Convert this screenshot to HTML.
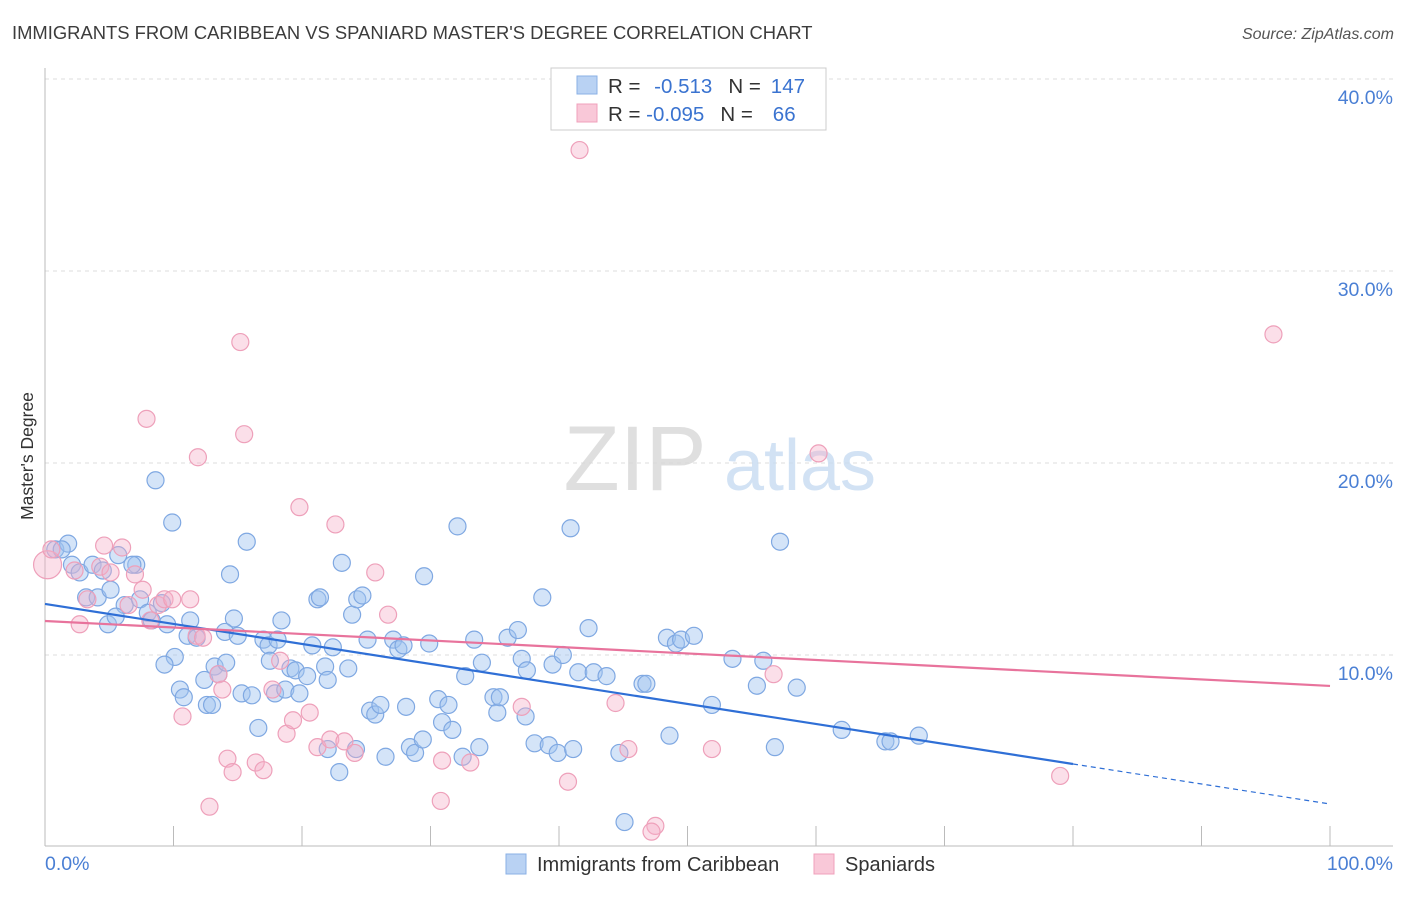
<!DOCTYPE html>
<html><head><meta charset="utf-8"><style>
body{margin:0;background:#fff;font-family:"Liberation Sans",sans-serif;}
svg text{font-family:"Liberation Sans",sans-serif;}
</style></head><body>
<svg id="chart" width="1406" height="892" viewBox="0 0 1406 892" xmlns="http://www.w3.org/2000/svg">
<text x="12" y="39" font-size="18.4" fill="#3c3c3c">IMMIGRANTS FROM CARIBBEAN VS SPANIARD MASTER'S DEGREE CORRELATION CHART</text>
<text x="1394" y="39" font-size="16" fill="#555" font-style="italic" text-anchor="end">Source: ZipAtlas.com</text>
<g id="grid"></g>
<g>
<text x="635" y="490" font-size="92" fill="#d8d8d8" font-family="Liberation Serif" text-anchor="middle" opacity="0.8">ZIP</text>
<text x="800" y="490" font-size="72" fill="#c8dcf2" text-anchor="middle" opacity="0.8">atlas</text>
</g>
<line x1="45" y1="68" x2="45" y2="846" stroke="#bbb"/>
<line x1="45" y1="846" x2="1393" y2="846" stroke="#bbb"/>
<g id="xticks"></g>
<g id="ylabels"></g>
<g id="pts"></g>
<g id="lines"></g>
<text x="45" y="870" font-size="19.5" fill="#4a7fd4">0.0%</text>
<text x="1393" y="870" font-size="19.5" fill="#4a7fd4" text-anchor="end">100.0%</text>
<text transform="translate(33,456) rotate(-90)" font-size="17.5" fill="#333" text-anchor="middle">Master's Degree</text>
<g>
<rect x="551" y="68" width="275" height="62" fill="#fff" stroke="#ccc"/>
<rect x="577" y="76" width="20" height="18" fill="#b9d2f3" stroke="#8ab0e6"/>
<rect x="577" y="104" width="20" height="18" fill="#f9c8d8" stroke="#f0a0bb"/>
<text x="608" y="93" font-size="20.5" fill="#333">R = <tspan fill="#3a73d0" dx="8">-0.513</tspan><tspan fill="#333" dx="16">N =</tspan><tspan fill="#3a73d0" dx="10">147</tspan></text>
<text x="608" y="121" font-size="20.5" fill="#333">R = <tspan fill="#3a73d0">-0.095</tspan><tspan fill="#333" dx="16">N =</tspan><tspan fill="#3a73d0" dx="20">66</tspan></text>
</g>
<g>
<rect x="506" y="854" width="20" height="20" fill="#b9d2f3" stroke="#8ab0e6"/>
<text x="537" y="871" font-size="20" fill="#333">Immigrants from Caribbean</text>
<rect x="814" y="854" width="20" height="20" fill="#f9c8d8" stroke="#f0a0bb"/>
<text x="845" y="871" font-size="20" fill="#333">Spaniards</text>
</g>
</svg>
<script>
const yTicks=[10,20,30,40];
const yTickLabels=["10.0%","20.0%","30.0%","40.0%"];
const xTicks=[0,10,20,30,40,50,60,70,80,90,100];
const blueX=[0.8,1.8,1.3,2.1,2.7,3.7,3.2,4.1,5.1,5.7,4.5,7.1,6.8,6.2,7.4,8.0,4.9,5.5,8.6,9.9,9.1,8.3,9.5,11.3,11.1,11.8,10.1,9.3,10.5,10.8,12.6,13.0,12.4,13.2,13.5,14.1,14.4,14.7,14.0,15.0,15.7,15.3,16.1,16.6,17.0,17.4,18.1,18.4,17.5,17.9,18.7,19.1,19.5,19.8,20.4,20.8,21.2,21.4,21.8,22.0,22.4,23.1,23.6,23.9,24.3,24.7,25.1,22.9,22.0,24.2,25.3,25.7,26.1,26.5,27.1,27.5,27.9,28.1,28.4,28.8,29.4,29.5,29.9,30.6,30.9,31.4,31.7,32.1,32.5,32.7,33.4,33.8,34.0,34.9,35.2,35.4,36.0,36.8,37.1,37.5,37.4,38.1,38.7,39.2,39.5,39.9,40.3,40.9,41.1,41.5,42.3,42.7,43.7,44.7,45.1,46.5,46.8,48.4,48.6,49.1,49.5,50.5,51.9,53.5,55.4,55.9,56.8,57.2,58.5,62.0,65.4,65.8,68.0];
const blueY=[15.5,15.8,15.5,14.7,14.3,14.7,13.0,13.0,13.4,15.2,14.4,14.7,14.7,12.6,12.9,12.2,11.6,12.0,19.1,16.9,12.7,11.8,11.6,11.8,11.0,10.9,9.9,9.5,8.2,7.8,7.4,7.4,8.7,9.4,9.0,9.6,14.2,11.9,11.2,11.0,15.9,8.0,7.9,6.2,10.8,10.5,10.8,11.8,9.7,8.0,8.2,9.3,9.2,8.0,8.9,10.5,12.9,13.0,9.4,8.7,10.4,14.8,9.3,12.1,12.9,13.1,10.8,3.9,5.1,5.1,7.1,6.9,7.4,4.7,10.8,10.3,10.5,7.3,5.2,4.9,5.6,14.1,10.6,7.7,6.5,7.4,6.1,16.7,4.7,8.9,10.8,5.2,9.6,7.8,7.0,7.8,10.9,11.3,9.8,9.2,6.8,5.4,13.0,5.3,9.5,4.9,10.0,16.6,5.1,9.1,11.4,9.1,8.9,4.9,1.3,8.5,8.5,10.9,5.8,10.6,10.8,11.0,7.4,9.8,8.4,9.7,5.2,15.9,8.3,6.1,5.5,5.5,5.8];
const pinkX=[0.2,0.5,2.3,2.7,3.3,4.3,4.6,5.1,6.0,6.5,7.0,7.6,7.9,8.2,8.8,9.3,9.9,10.7,11.3,11.8,11.9,12.3,12.8,13.5,13.8,14.2,14.6,15.2,15.5,16.4,17.0,17.7,18.3,18.8,19.3,19.8,20.6,21.2,22.2,22.6,23.3,24.1,25.7,26.7,30.8,30.9,33.1,37.1,40.7,41.6,44.4,45.4,47.5,47.2,51.9,56.7,60.2,79.0,95.6];
const pinkY=[14.7,15.5,14.4,11.6,12.9,14.6,15.7,14.3,15.6,12.6,14.2,13.4,22.3,11.8,12.6,12.9,12.9,6.8,12.9,11.0,20.3,10.9,2.1,9.0,8.2,4.6,3.9,26.3,21.5,4.4,4.0,8.2,9.7,5.9,6.6,17.7,7.0,5.2,5.6,16.8,5.5,4.9,14.3,12.1,2.4,4.5,4.4,7.3,3.4,36.3,7.5,5.1,1.1,0.8,5.1,9.0,20.5,3.7,26.7];
const blueTrend=[12.66,2.24], pinkTrend=[11.77,8.39];
const NS="http://www.w3.org/2000/svg";
const X=v=>45+v*12.85, Y=v=>847-v*19.2;
function mk(tag,attrs,parent){const e=document.createElementNS(NS,tag);for(const k in attrs)e.setAttribute(k,attrs[k]);document.getElementById(parent).appendChild(e);return e;}
yTicks.forEach((t,i)=>{
 const l=mk('line',{x1:45,x2:1393,y1:Y(t),y2:Y(t),stroke:'#ddd','stroke-dasharray':'4,4'},'grid');
 
 
 const tx=mk('text',{x:1393,y:Y(t)+25,'font-size':19.5,fill:'#4a7fd4','text-anchor':'end'},'ylabels');
 tx.textContent=yTickLabels[i];
 
 
});
xTicks.forEach(t=>{
 const l=mk('line',{x1:X(t),x2:X(t),y1:826,y2:846,stroke:'#bbb'},'xticks');
 
 
});
blueX.forEach((x,i)=>{
 const c=mk('circle',{cx:X(x),cy:Y(blueY[i]),r:8.5,fill:'rgba(160,195,240,0.45)',stroke:'#7fa8e2','stroke-width':1.2},'pts');
 
 
});
pinkX.forEach((x,i)=>{
 const c=mk('circle',{cx:X(x),cy:Y(pinkY[i]),r:i==0?14:8.5,fill:'rgba(245,175,200,0.4)',stroke:'#eea0ba','stroke-width':1.2},'pts');
 
 
});
const bAt=x=>blueTrend[0]+(blueTrend[1]-blueTrend[0])*x/100;
let l1=mk('line',{x1:X(0),y1:Y(bAt(0)),x2:X(80),y2:Y(bAt(80)),stroke:'#2f6fd6','stroke-width':2.2},'lines');


let l2=mk('line',{x1:X(80),y1:Y(bAt(80)),x2:X(100),y2:Y(bAt(100)),stroke:'#2f6fd6','stroke-width':1.2,'stroke-dasharray':'5,4'},'lines');


let l3=mk('line',{x1:X(0),y1:Y(pinkTrend[0]),x2:X(100),y2:Y(pinkTrend[1]),stroke:'#e8739c','stroke-width':2.2},'lines');


</script>
</body></html>
